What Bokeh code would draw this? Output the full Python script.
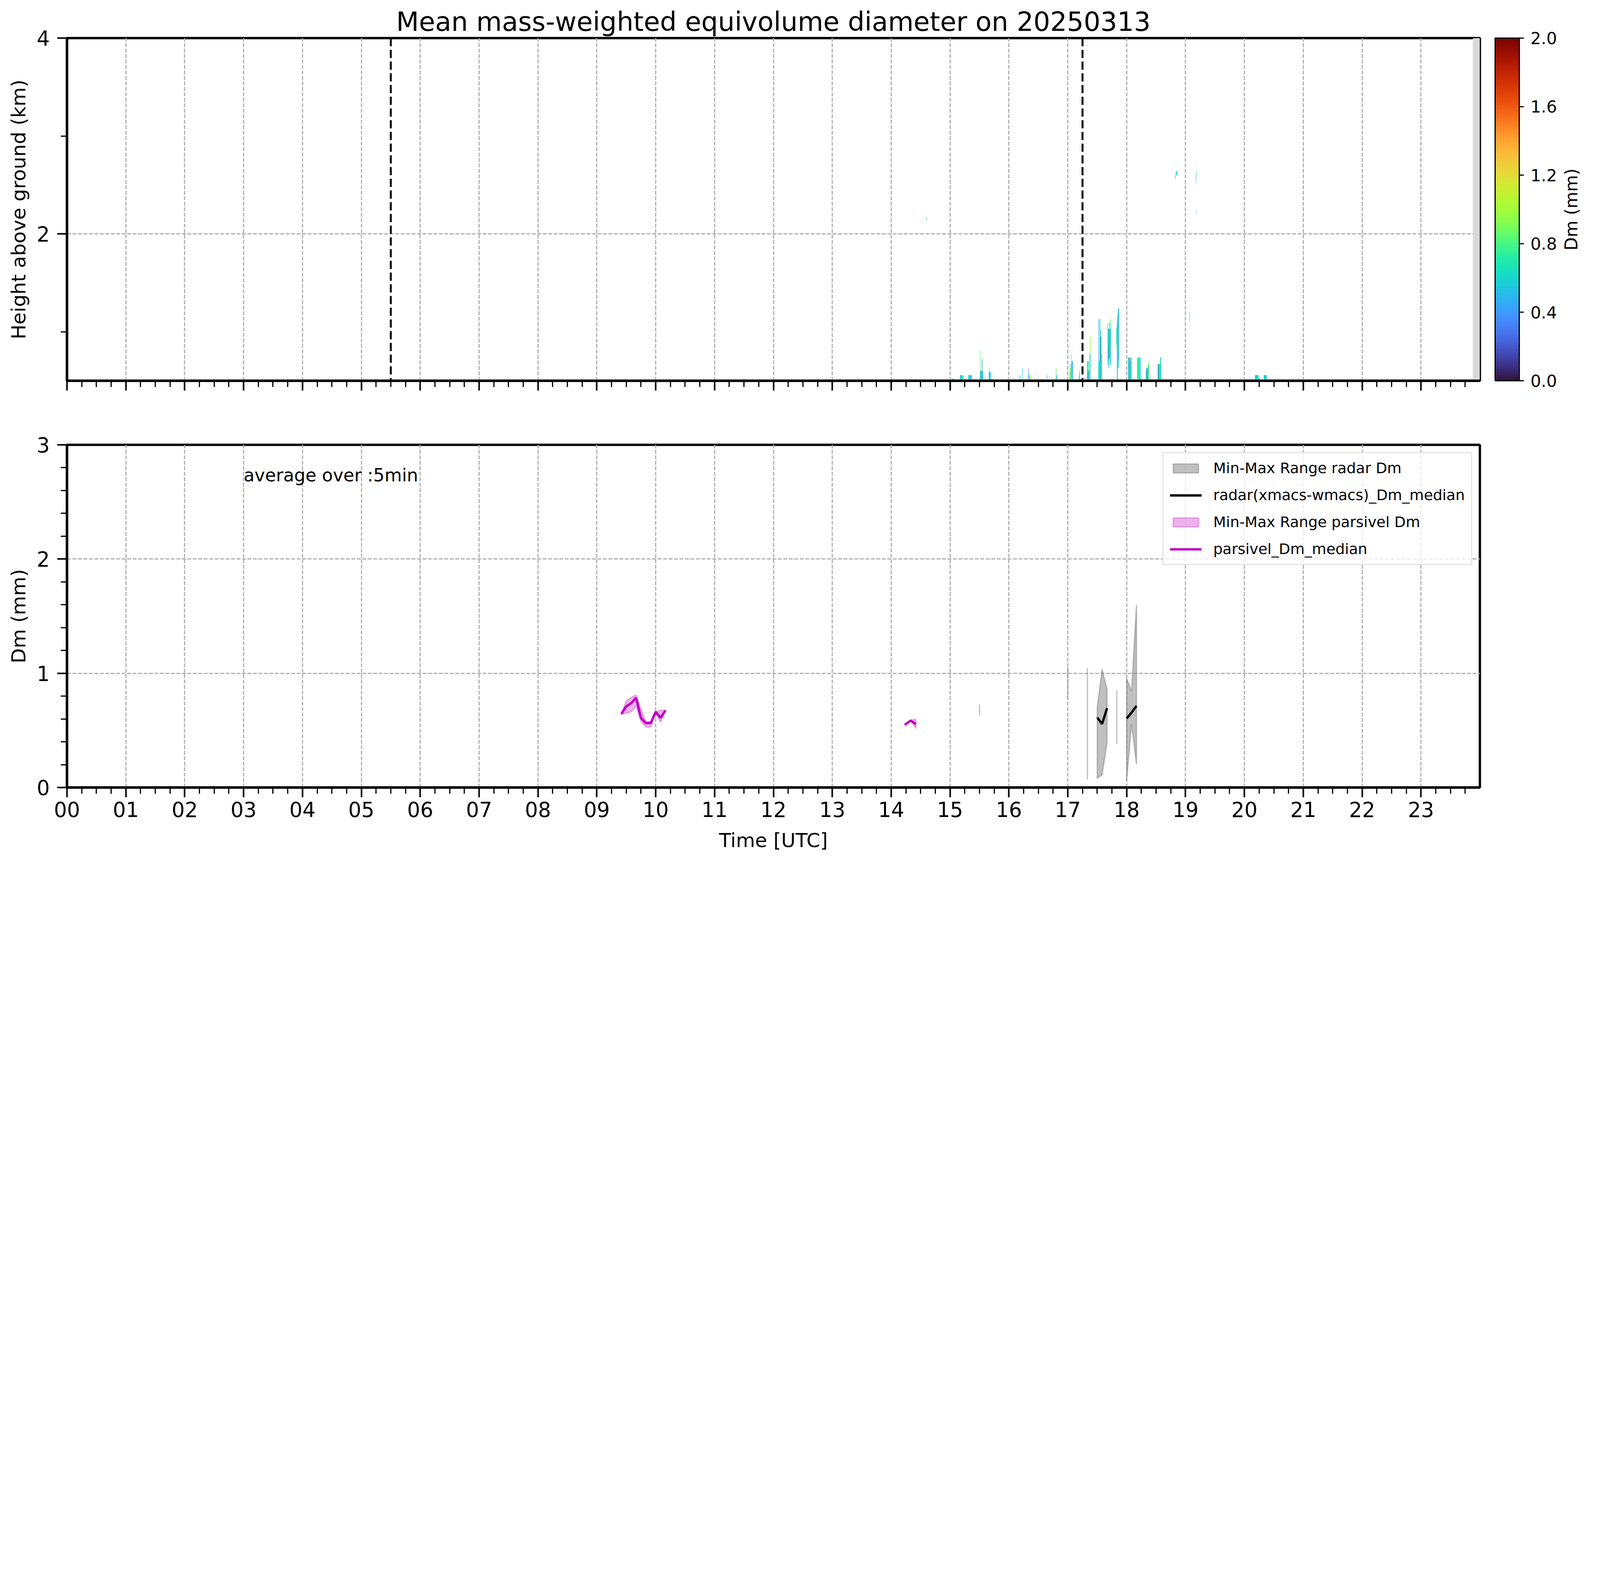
import math
import numpy as np
from bokeh.plotting import figure
from bokeh.models import (ColumnDataSource, FixedTicker, Range1d, Span, Label,
                          Legend, LegendItem)
from bokeh.core.properties import value
from bokeh.palettes import Turbo256
from bokeh.transform import linear_cmap
from bokeh.layouts import column, row
from bokeh.embed import file_html
from bokeh.resources import INLINE

FONT = "DejaVu Sans"

# ---------------- data ----------------
hours = list(range(24))
hour_labels = {h: f"{h:02d}" for h in hours}
event_times = [5.5, 17.25]          # black dashed markers in the upper panel
nodata_start, nodata_end = 23.88, 24.0
dm_ticks = [0.0, 0.4, 0.8, 1.2, 1.6, 2.0]

# radar Dm cells: (t_start [h], t_end [h], z_bottom [km], z_top [km], Dm [mm])
cells_1500 = [
    (15.030, 15.045, 0.50, 0.520, 0.55), (15.045, 15.060, 0.50, 0.520, 0.62),
    (15.060, 15.090, 0.50, 0.515, 0.58),
    (15.170, 15.180, 0.50, 0.557, 0.62), (15.180, 15.190, 0.50, 0.557, 0.45),
    (15.190, 15.205, 0.50, 0.557, 0.60), (15.205, 15.220, 0.50, 0.557, 0.72),
    (15.310, 15.320, 0.50, 0.557, 0.55), (15.320, 15.335, 0.50, 0.557, 0.75),
    (15.335, 15.350, 0.50, 0.557, 0.45), (15.350, 15.370, 0.50, 0.557, 0.60),
    (15.510, 15.515, 0.60, 0.810, 0.85), (15.510, 15.515, 0.50, 0.600, 0.55),
    (15.515, 15.530, 0.50, 0.600, 0.50), (15.530, 15.540, 0.50, 0.600, 0.65),
    (15.540, 15.548, 0.50, 0.720, 0.42), (15.548, 15.560, 0.50, 0.600, 0.60),
    (15.660, 15.670, 0.50, 0.590, 0.55), (15.670, 15.675, 0.50, 0.630, 0.70),
    (15.675, 15.690, 0.50, 0.590, 0.50), (15.700, 15.705, 0.50, 0.520, 0.45),
]
cells_1600 = [
    (16.180, 16.190, 0.50, 0.557, 0.75), (16.200, 16.205, 0.50, 0.520, 0.70),
    (16.225, 16.230, 0.50, 0.630, 0.55), (16.330, 16.335, 0.50, 0.630, 0.35),
    (16.340, 16.350, 0.50, 0.557, 0.60), (16.360, 16.370, 0.50, 0.557, 0.95),
    (16.645, 16.650, 0.52, 0.557, 0.40), (16.800, 16.805, 0.50, 0.630, 0.85),
    (16.805, 16.815, 0.50, 0.557, 0.45),
]
cells_1700 = [
    (17.024, 17.030, 0.50, 0.520, 0.50), (17.030, 17.040, 0.50, 0.600, 0.85),
    (17.040, 17.050, 0.50, 0.630, 0.95), (17.050, 17.058, 0.50, 0.670, 0.55),
    (17.058, 17.066, 0.50, 0.770, 0.90), (17.066, 17.075, 0.50, 0.700, 0.60),
    (17.075, 17.085, 0.50, 0.700, 0.45),
    (17.176, 17.185, 0.50, 0.520, 0.45), (17.190, 17.197, 0.50, 0.560, 0.65),
    (17.197, 17.203, 0.50, 0.600, 0.60), (17.210, 17.224, 0.50, 0.520, 0.70),
    (17.327, 17.335, 0.50, 0.700, 0.80), (17.335, 17.343, 0.50, 0.700, 0.60),
    (17.343, 17.350, 0.50, 0.600, 0.15), (17.350, 17.360, 0.50, 0.700, 0.75),
    (17.360, 17.368, 0.50, 0.600, 0.50), (17.368, 17.376, 0.50, 0.770, 0.95),
    (17.376, 17.384, 0.77, 0.950, 1.05), (17.376, 17.384, 0.50, 0.770, 0.55),
    (17.520, 17.526, 0.70, 1.130, 0.45), (17.520, 17.526, 0.50, 0.700, 0.60),
    (17.526, 17.540, 0.50, 0.700, 0.62), (17.540, 17.546, 0.70, 1.130, 0.65),
    (17.540, 17.546, 0.50, 0.700, 0.70), (17.546, 17.552, 0.70, 1.130, 0.80),
    (17.546, 17.552, 0.50, 0.700, 0.55), (17.552, 17.560, 0.70, 1.020, 0.60),
    (17.552, 17.560, 0.50, 0.700, 0.58), (17.556, 17.559, 0.70, 0.950, 0.12),
    (17.560, 17.570, 0.50, 0.950, 0.58), (17.570, 17.576, 0.50, 0.770, 0.42),
    (17.676, 17.684, 0.66, 1.090, 0.75), (17.684, 17.692, 0.70, 1.030, 0.60),
    (17.692, 17.700, 0.63, 1.030, 0.50), (17.698, 17.701, 0.73, 0.860, 0.10),
    (17.700, 17.710, 0.75, 1.030, 0.62), (17.710, 17.716, 0.72, 1.090, 0.30),
    (17.716, 17.724, 0.66, 1.130, 0.80), (17.724, 17.733, 0.66, 1.030, 0.50),
    (17.824, 17.830, 0.88, 1.030, 0.55), (17.830, 17.836, 0.84, 1.060, 0.80),
    (17.836, 17.842, 0.50, 1.100, 0.60), (17.842, 17.848, 0.60, 1.170, 0.35),
    (17.842, 17.848, 0.50, 0.600, 0.55), (17.848, 17.856, 0.63, 1.200, 0.75),
    (17.856, 17.864, 0.63, 1.240, 0.55), (17.864, 17.870, 0.70, 1.240, 0.45),
]
cells_1800 = [
    (18.027, 18.033, 0.50, 0.736, 0.55), (18.033, 18.037, 0.50, 0.736, 0.15),
    (18.037, 18.045, 0.50, 0.736, 0.65), (18.048, 18.056, 0.50, 0.736, 0.38),
    (18.056, 18.066, 0.50, 0.700, 0.60), (18.066, 18.075, 0.50, 0.736, 0.55),
    (18.075, 18.085, 0.50, 0.736, 0.75),
    (18.176, 18.185, 0.50, 0.736, 0.95), (18.185, 18.195, 0.50, 0.736, 0.60),
    (18.195, 18.205, 0.50, 0.736, 0.75), (18.205, 18.215, 0.50, 0.736, 0.62),
    (18.215, 18.225, 0.50, 0.736, 0.85), (18.225, 18.236, 0.50, 0.736, 0.55),
    (18.325, 18.335, 0.50, 0.600, 0.70), (18.335, 18.345, 0.50, 0.630, 0.50),
    (18.345, 18.352, 0.50, 0.630, 0.20), (18.352, 18.362, 0.50, 0.600, 0.75),
    (18.362, 18.372, 0.50, 0.660, 0.55), (18.372, 18.385, 0.50, 0.700, 0.90),
    (18.527, 18.535, 0.50, 0.670, 0.85), (18.535, 18.542, 0.50, 0.670, 0.15),
    (18.542, 18.552, 0.50, 0.670, 0.60), (18.552, 18.560, 0.50, 0.670, 0.55),
    (18.560, 18.570, 0.50, 0.670, 0.75), (18.570, 18.584, 0.50, 0.740, 0.62),
]
cells_late = [
    (19.065, 19.072, 1.10, 1.200, 0.80),
    (20.180, 20.240, 0.50, 0.557, 0.62), (20.330, 20.380, 0.50, 0.557, 0.60),
    (20.530, 20.535, 0.50, 0.520, 0.50), (21.160, 21.170, 0.50, 0.510, 0.55),
    (21.600, 21.610, 0.50, 0.510, 0.50),
]
cells_aloft = [
    (14.600, 14.605, 2.14, 2.170, 0.55),
    (18.836, 18.850, 2.60, 2.640, 0.68), (18.858, 18.862, 2.60, 2.640, 0.42),
    (18.826, 18.830, 2.56, 2.600, 0.40), (19.176, 19.180, 2.56, 2.600, 0.40),
    (19.182, 19.186, 2.60, 2.640, 0.65), (19.177, 19.180, 2.52, 2.560, 0.55),
    (19.186, 19.188, 2.21, 2.245, 0.50),
]

# 5-min statistics (time [h], Dm [mm])
radar_t   = [15.500, 17.000, 17.333, 17.500, 17.583, 17.667, 17.833, 18.000, 18.083, 18.167]
radar_min = [0.630, 0.770, 0.070, 0.079, 0.112, 0.394, 0.380, 0.060, 0.556, 0.203]
radar_max = [0.727, 1.050, 1.045, 0.700, 1.034, 0.862, 0.850, 0.957, 0.842, 1.600]
radar_med = [0.680, 0.900, 0.550, 0.613, 0.556, 0.695, 0.600, 0.604, 0.656, 0.714]

pars_t   = [9.417, 9.500, 9.583, 9.667, 9.750, 9.833, 9.917, 10.000, 10.083, 10.167,
            14.230, 14.330, 14.420]
pars_min = [0.640, 0.650, 0.663, 0.710, 0.580, 0.530, 0.530, 0.647, 0.572, 0.672,
            0.548, 0.586, 0.517]
pars_max = [0.650, 0.757, 0.788, 0.810, 0.684, 0.580, 0.575, 0.663, 0.678, 0.676,
            0.548, 0.590, 0.597]
pars_med = [0.644, 0.710, 0.738, 0.785, 0.610, 0.563, 0.565, 0.663, 0.610, 0.675,
            0.548, 0.586, 0.555]

# ---------------- sizing (reference pixels scaled to fit the window) ----------------
S = 0.548


def P(v):
    return max(1, int(round(v * S)))


def F(v):
    return f"{v * S:.1f}px"


def D(a, b):
    return f"{P(a)} {P(b)}"


TOTAL_W = P(7426)
FRAME_W = P(6600)
FRAME_H = P(1600)
LEFT = P(312)
TOP_W = P(6952)
CB_W = TOTAL_W - TOP_W
TOP_H = P(1932)
BOT_H = P(2083)
TOP_B = P(177)
TOP_BOTTOM_B = TOP_H - TOP_B - FRAME_H

GRID_COLOR = "#b0b0b0"


def style_axis(ax):
    ax.axis_line_width = P(11)
    ax.axis_line_color = "black"
    ax.major_tick_line_width = P(7)
    ax.minor_tick_line_width = P(5)
    ax.major_tick_out = P(45)
    ax.major_tick_in = 0
    ax.minor_tick_out = P(30)
    ax.minor_tick_in = 0
    ax.major_label_text_font = FONT
    ax.major_label_text_font_size = F(96)
    ax.major_label_text_color = "black"
    ax.axis_label_text_font = FONT
    ax.axis_label_text_font_size = F(92)
    ax.axis_label_text_font_style = "normal"
    ax.axis_label_text_color = "black"


def style_fig(p):
    p.outline_line_color = "black"
    p.outline_line_width = P(11)
    p.background_fill_color = "white"
    p.border_fill_color = "white"
    for g in p.grid:
        g.grid_line_color = GRID_COLOR
        g.grid_line_width = P(5)
        g.grid_line_dash = D(18, 8)


def runs(t, gap=0.12):
    groups, cur = [], [0]
    for i in range(1, len(t)):
        if t[i] - t[i - 1] < gap:
            cur.append(i)
        else:
            groups.append(cur)
            cur = [i]
    groups.append(cur)
    return groups


minor_x = [q / 4 for q in range(0, 97) if q % 4 != 0]
x_ticker = FixedTicker(ticks=hours, minor_ticks=minor_x)

# ---------------- top panel ----------------
top = figure(width=TOP_W, height=TOP_H, x_range=Range1d(0, 24), y_range=Range1d(0.5, 4),
             output_backend="svg", toolbar_location=None,
             min_border_left=LEFT, min_border_right=TOP_W - LEFT - FRAME_W,
             min_border_top=TOP_B, min_border_bottom=TOP_BOTTOM_B)
top.title.text = "Mean mass-weighted equivolume diameter on 20250313"
top.title.text_font = FONT
top.title.text_font_size = F(123)
top.title.text_font_style = "normal"
top.title.text_color = "black"
top.title.align = "center"
top.title.standoff = P(10)

all_cells = cells_1500 + cells_1600 + cells_1700 + cells_1800 + cells_late + cells_aloft
cell_src = ColumnDataSource(dict(
    t0=[c[0] for c in all_cells], t1=[c[1] for c in all_cells],
    z0=[c[2] for c in all_cells], z1=[c[3] for c in all_cells],
    dm=[c[4] for c in all_cells]))
cmap = linear_cmap("dm", Turbo256, 0, 2)
top.quad(left="t0", right="t1", bottom="z0", top="z1", source=cell_src,
         fill_color=cmap, line_color=cmap, line_width=0.4)
top.quad(left=[nodata_start], right=[nodata_end], bottom=[0.5], top=[4.0],
         fill_color="#d9d9d9", line_color=None)
for et in event_times:
    top.add_layout(Span(location=et, dimension="height", line_color="black",
                        line_width=P(10), line_dash=D(38, 17)))

top.xaxis.ticker = x_ticker
top.xaxis.major_label_overrides = hour_labels
top.yaxis.ticker = FixedTicker(ticks=[2, 4], minor_ticks=[1, 3])
top.yaxis.axis_label = "Height above ground (km)"
for ax in top.xaxis + top.yaxis:
    style_axis(ax)
top.xaxis.major_label_text_font_size = "1px"
top.xaxis.major_label_text_color = None
top.yaxis.major_label_standoff = P(35)
top.yaxis.axis_label_standoff = P(25)
style_fig(top)

# ---------------- colour bar (own frame spanning the whole column) ----------------
# x in reference pixels from the left edge of this column, y in Dm units
px_per_dm = FRAME_H / 2.0
cb_y0 = 0.0 - TOP_BOTTOM_B / px_per_dm
cb_y1 = 2.0 + TOP_B / px_per_dm
cb = figure(width=CB_W, height=TOP_H, x_range=Range1d(0, CB_W / S), y_range=Range1d(cb_y0, cb_y1),
            output_backend="svg", toolbar_location=None,
            x_axis_location=None, y_axis_location=None,
            min_border_left=0, min_border_right=0, min_border_top=0, min_border_bottom=0)
cb.frame_align = False
cb.outline_line_color = None
cb.grid.visible = False
BAR_L, BAR_R = 31, 144
levels = np.linspace(0, 2, 257)
cb.quad(left=BAR_L, right=BAR_R, bottom=levels[:-1], top=levels[1:],
        fill_color=list(Turbo256), line_color=list(Turbo256), line_width=1)
cb.quad(left=[BAR_L], right=[BAR_R], bottom=[0], top=[2], fill_color=None,
        line_color="black", line_width=P(5))
cb.segment(x0=[BAR_R] * len(dm_ticks), y0=dm_ticks, x1=[BAR_R + 21] * len(dm_ticks),
           y1=dm_ticks, line_color="black", line_width=P(5))
cb.text(x=[BAR_R + 52] * len(dm_ticks), y=dm_ticks, text=[f"{v:.1f}" for v in dm_ticks],
        text_font=value(FONT), text_font_size=value(F(78)), text_align="left",
        text_baseline="middle", text_color="black")
cb.text(x=[387], y=[1.0], text=["Dm (mm)"], angle=math.pi / 2,
        text_font=value(FONT), text_font_size=value(F(80)), text_align="center",
        text_baseline="middle", text_color="black")

# ---------------- bottom panel ----------------
bot = figure(width=TOTAL_W, height=BOT_H, x_range=Range1d(0, 24), y_range=Range1d(0, 3),
             output_backend="svg", toolbar_location=None,
             min_border_left=LEFT, min_border_right=TOTAL_W - LEFT - FRAME_W,
             min_border_top=P(145), min_border_bottom=BOT_H - P(145) - FRAME_H)

radar_patch_rs, pars_patch_rs = [], []
for g in runs(radar_t):
    t = [radar_t[i] for i in g]
    lo = [radar_min[i] for i in g]
    hi = [radar_max[i] for i in g]
    if len(g) == 1:
        bot.segment(x0=t, y0=lo, x1=t, y1=hi, line_color="gray", line_alpha=0.5,
                    line_width=P(6))
        continue
    radar_patch_rs.append(bot.patch(x=t + t[::-1], y=hi + lo[::-1], fill_color="gray",
                                    fill_alpha=0.5, line_color="gray", line_alpha=0.5,
                                    line_width=P(6)))
for g in runs(pars_t):
    t = [pars_t[i] for i in g]
    lo = [pars_min[i] for i in g]
    hi = [pars_max[i] for i in g]
    pars_patch_rs.append(bot.patch(x=t + t[::-1], y=hi + lo[::-1], fill_color="#bf00bf",
                                   fill_alpha=0.3, line_color="#bf00bf", line_alpha=0.3,
                                   line_width=P(6)))
radar_line_rs, pars_line_rs = [], []
for g in runs(radar_t):
    if len(g) > 1:
        radar_line_rs.append(bot.line([radar_t[i] for i in g], [radar_med[i] for i in g],
                                      line_color="black", line_width=P(11)))
for g in runs(pars_t):
    if len(g) > 1:
        pars_line_rs.append(bot.line([pars_t[i] for i in g], [pars_med[i] for i in g],
                                     line_color="#bf00bf", line_width=P(11)))

bot.add_layout(Label(x=3.0, y=2.733, text="average over :5min", text_font=FONT,
                     text_font_size=F(83), text_baseline="alphabetic", text_color="black"))

legend = Legend(items=[
    LegendItem(label="Min-Max Range radar Dm", renderers=radar_patch_rs[:1]),
    LegendItem(label="radar(xmacs-wmacs)_Dm_median", renderers=radar_line_rs[:1]),
    LegendItem(label="Min-Max Range parsivel Dm", renderers=pars_patch_rs[:1]),
    LegendItem(label="parsivel_Dm_median", renderers=pars_line_rs[:1]),
], location="top_right")
legend.label_text_font = FONT
legend.label_text_font_size = F(69)
legend.label_text_color = "black"
legend.glyph_width = P(148)
legend.glyph_height = P(53)
legend.label_height = P(53)
legend.label_standoff = P(54)
legend.spacing = P(46)
legend.padding = P(30)
legend.margin = P(35)
legend.border_line_color = "#cccccc"
legend.border_line_width = P(5)
legend.background_fill_alpha = 0.8
bot.add_layout(legend)

bot.xaxis.ticker = x_ticker
bot.xaxis.major_label_overrides = hour_labels
bot.xaxis.axis_label = "Time [UTC]"
bot.yaxis.ticker = FixedTicker(ticks=[0, 1, 2, 3],
                               minor_ticks=[v / 5 for v in range(0, 16) if v % 5 != 0])
bot.yaxis.axis_label = "Dm (mm)"
for ax in bot.xaxis + bot.yaxis:
    style_axis(ax)
bot.xaxis.major_label_standoff = P(20)
bot.xaxis.axis_label_standoff = P(50)
bot.yaxis.major_label_standoff = P(35)
bot.yaxis.axis_label_standoff = P(25)
style_fig(bot)

layout = column(row(top, cb, spacing=0), bot, spacing=0)
open("out.html", "w").write(file_html(layout, INLINE))
